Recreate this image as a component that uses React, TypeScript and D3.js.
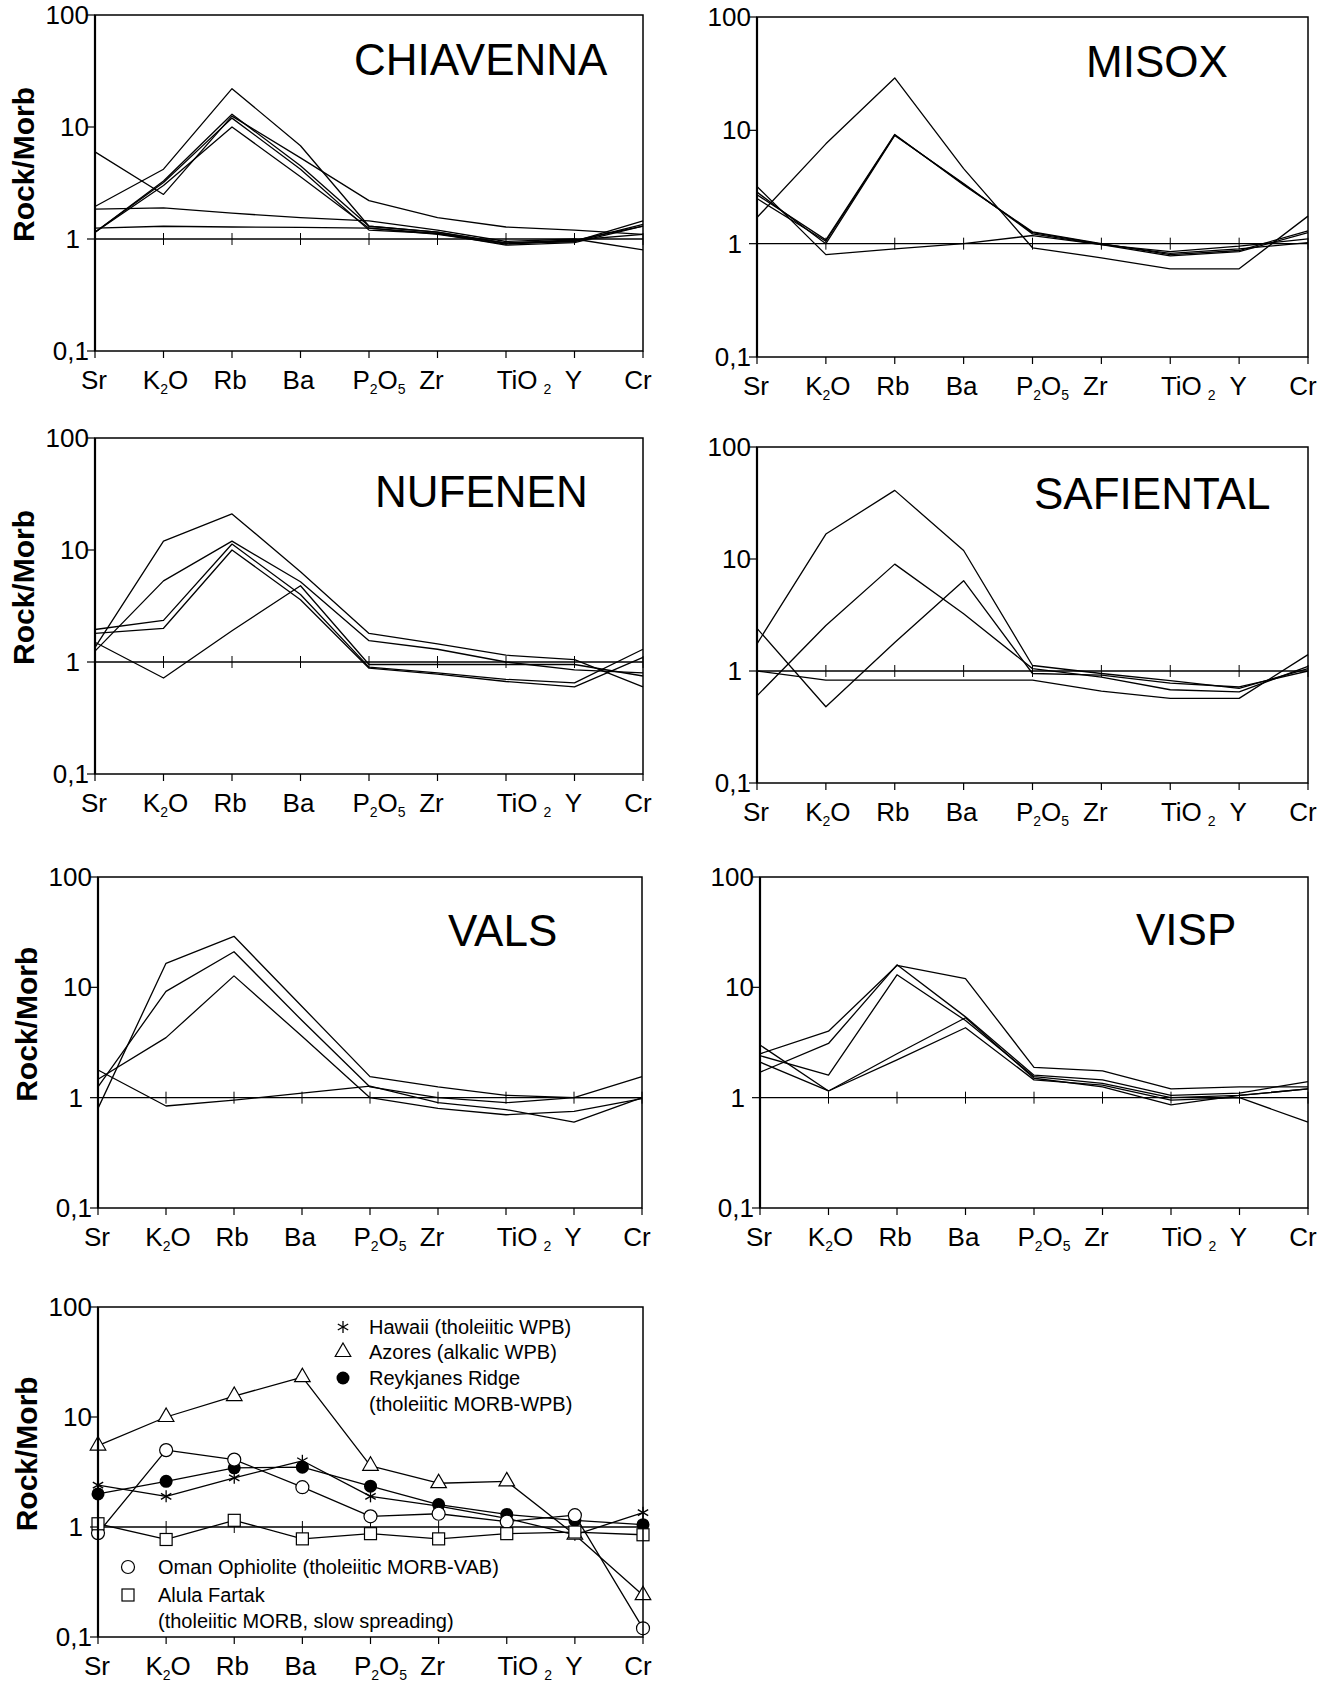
import React from "react";
import * as d3 from "d3";

// ---------- data ----------
const elements = ["Sr", "K2O", "Rb", "Ba", "P2O5", "Zr", "TiO2", "Y", "Cr"];
const yTickValues = [0.1, 1, 10, 100];
const yTickLabels = ["0,1", "1", "10", "100"];

const chiavenna = [
  [1.95, 4.2, 22, 6.8, 1.3, 1.15, 0.92, 0.95, 1.45],
  [6.0, 2.5, 12.5, 5.3, 2.2, 1.55, 1.28, 1.2, 1.1],
  [1.15, 3.3, 13, 4.5, 1.3, 1.15, 0.92, 0.95, 1.35],
  [1.15, 3.0, 10, 3.6, 1.25, 1.1, 0.9, 0.97, 1.3],
  [1.15, 3.2, 12, 4.2, 1.2, 1.12, 0.88, 0.93, 1.3],
  [1.85, 1.9, 1.7, 1.55, 1.45, 1.2, 0.95, 1.0, 0.8],
  [1.25, 1.3, 1.28, 1.27, 1.25, 1.12, 0.92, 0.98, 1.1],
];
const misox = [
  [1.7, 7.6, 29, 4.6, 0.92, 0.75, 0.6, 0.6, 1.75],
  [2.7, 1.08, 9.2, 3.3, 1.27, 1.0, 0.8, 0.87, 1.3],
  [2.85, 1.0, 9.0, 3.4, 1.22, 0.98, 0.78, 0.85, 1.25],
  [3.2, 0.8, 0.9, 1.0, 1.18, 0.98, 0.85, 0.95, 1.1],
  [2.5, 1.05, 9.1, 3.35, 1.25, 0.99, 0.82, 0.9, 1.02],
];
const nufenen = [
  [1.35, 12, 21, 6.4, 1.8, 1.45, 1.15, 1.05, 0.6],
  [1.25, 5.3, 12, 5.2, 1.55, 1.3, 1.0, 0.85, 0.8],
  [1.95, 2.35, 11.3, 4.0, 0.9, 0.8, 0.7, 0.65, 1.3],
  [1.8, 2.0, 10, 3.6, 0.88, 0.78, 0.67, 0.6, 1.1],
  [1.5, 0.72, 1.9, 4.8, 0.95, 0.95, 0.95, 0.95, 0.75],
];
const safiental = [
  [1.75, 16.7, 41, 11.9, 1.12, 0.95, 0.82, 0.7, 1.05],
  [0.6, 2.55, 9.0, 3.25, 1.05, 0.88, 0.68, 0.65, 1.1],
  [2.4, 0.48, 1.8, 6.4, 0.95, 0.92, 0.78, 0.72, 1.0],
  [1.0, 0.83, 0.83, 0.83, 0.83, 0.66, 0.57, 0.57, 1.4],
];
const vals = [
  [0.8, 16.5, 29, 6.7, 1.55, 1.25, 1.05, 1.0, 1.55],
  [1.25, 9.2, 21, 5.0, 1.25, 1.0, 0.9, 1.0, 1.0],
  [1.47, 3.5, 12.7, 3.6, 1.0, 0.8, 0.7, 0.75, 0.98],
  [1.78, 0.84, 0.95, 1.1, 1.27, 0.9, 0.78, 0.6, 1.0],
];
const visp = [
  [2.5, 4.0, 15.8, 12, 1.88, 1.75, 1.2, 1.25, 1.25],
  [1.7, 3.1, 16, 5.4, 1.6, 1.45, 1.05, 1.1, 1.4],
  [2.4, 1.6, 13, 5.0, 1.55, 1.35, 1.0, 1.05, 1.2],
  [3.0, 1.15, 2.5, 5.3, 1.5, 1.25, 0.86, 1.05, 1.2],
  [2.1, 1.15, 2.2, 4.3, 1.45, 1.3, 0.95, 1.0, 0.6],
];

const hawaii = [2.4, 1.9, 2.8, 4.0, 1.9, 1.55, 1.2, 0.85, 1.35];
const azores = [5.5, 10, 15.5, 23, 3.6, 2.5, 2.6, 0.85, 0.24];
const reykjanes = [2.0, 2.6, 3.45, 3.5, 2.35, 1.6, 1.3, 1.15, 1.05];
const oman = [0.88, 5.0, 4.1, 2.3, 1.25, 1.32, 1.12, 1.28, 0.12];
const alula = [1.07, 0.77, 1.15, 0.78, 0.87, 0.78, 0.87, 0.9, 0.85];

const referenceNames = [
  "Hawaii (tholeiitic WPB)",
  "Azores (alkalic WPB)",
  "Reykjanes Ridge",
  "Oman Ophiolite (tholeiitic MORB-VAB)",
  "Alula Fartak",
];

// ---------- layout ----------
const FONT = "'Liberation Sans', Arial, Helvetica, sans-serif";
const W = 1339;
const H = 1682;

type Marker = "asterisk" | "triangle" | "dot" | "circle" | "square";

type PanelCfg = {
  title?: string;
  series: number[][];
  markers?: Marker[];
  left: number;
  right: number;
  top: number;
  bottom: number;
  titleX?: number;
  titleY?: number;
  yLabel: boolean;
};

const panels: PanelCfg[] = [
  { title: "CHIAVENNA", series: chiavenna, left: 95, right: 643, top: 15, bottom: 351, titleX: 354, titleY: 75, yLabel: true },
  { title: "MISOX", series: misox, left: 757, right: 1308, top: 17, bottom: 357, titleX: 1086, titleY: 77, yLabel: false },
  { title: "NUFENEN", series: nufenen, left: 95, right: 643, top: 438, bottom: 774, titleX: 375, titleY: 507, yLabel: true },
  { title: "SAFIENTAL", series: safiental, left: 757, right: 1308, top: 447, bottom: 783, titleX: 1034, titleY: 509, yLabel: false },
  { title: "VALS", series: vals, left: 98, right: 642, top: 877, bottom: 1208, titleX: 448, titleY: 946, yLabel: true },
  { title: "VISP", series: visp, left: 760, right: 1308, top: 877, bottom: 1208, titleX: 1136, titleY: 945, yLabel: false },
  {
    series: [hawaii, azores, reykjanes, oman, alula],
    markers: ["asterisk", "triangle", "dot", "circle", "square"],
    left: 98, right: 643, top: 1307, bottom: 1637, yLabel: true,
  },
];

const labelNudge: Record<string, number> = {
  Sr: -1, K2O: 2, Rb: -2, Ba: -2, P2O5: 10, Zr: -6, TiO2: 18, Y: -1, Cr: -5,
};

function MarkerShape({ type, cx, cy }: { type: Marker; cx: number; cy: number }) {
  const sw = 1.2;
  if (type === "asterisk") {
    const r = 6;
    const angles = [90, 30, 150];
    return (
      <g stroke="#000" strokeWidth={1.3}>
        {angles.map((a) => {
          const rad = (a * Math.PI) / 180;
          const dx = r * Math.cos(rad);
          const dy = r * Math.sin(rad);
          return <line key={a} x1={cx - dx} y1={cy - dy} x2={cx + dx} y2={cy + dy} />;
        })}
      </g>
    );
  }
  if (type === "triangle") {
    const p = d3.symbol().type(d3.symbolTriangle).size(105)();
    return <path d={p || ""} transform={`translate(${cx},${cy})`} fill="#fff" stroke="#000" strokeWidth={sw} />;
  }
  if (type === "dot") return <circle cx={cx} cy={cy} r={6.5} fill="#000" />;
  if (type === "circle") return <circle cx={cx} cy={cy} r={6.5} fill="#fff" stroke="#000" strokeWidth={sw} />;
  return <rect x={cx - 6} y={cy - 6} width={12} height={12} fill="#fff" stroke="#000" strokeWidth={sw} />;
}

function ElementLabel({ name, x, y }: { name: string; x: number; y: number }) {
  const parts = name.match(/[A-Za-z]+|\d+/g) || [name];
  let shifted = false;
  return (
    <text x={x + (labelNudge[name] || 0)} y={y} textAnchor="middle" fontFamily={FONT} fontSize={26} fill="#000">
      {parts.map((p, i) => {
        const isNum = /^\d+$/.test(p);
        let dy = 0;
        if (isNum && !shifted) { dy = 5; shifted = true; }
        else if (!isNum && shifted) { dy = -5; shifted = false; }
        const dx = isNum && name === "TiO2" ? 6 : 0;
        return (
          <tspan key={i} dy={dy} dx={dx} fontSize={isNum ? 14 : 26}>{p}</tspan>
        );
      })}
    </text>
  );
}

function Panel({ cfg }: { cfg: PanelCfg }) {
  const x = d3.scalePoint<string>().domain(elements).range([cfg.left, cfg.right]);
  const y = d3.scaleLog().domain([0.1, 100]).range([cfg.bottom, cfg.top]);
  const line = d3
    .line<number>()
    .x((_, i) => x(elements[i]) as number)
    .y((d) => y(d));
  const y1 = y(1);
  const h = cfg.bottom - cfg.top;
  return (
    <g>
      {/* reference line at 1 with cross ticks */}
      <line x1={cfg.left} x2={cfg.right} y1={y1} y2={y1} stroke="#000" strokeWidth={1.3} />
      {elements.map((e) => (
        <line key={"c" + e} x1={x(e)} x2={x(e)} y1={y1 - 6} y2={y1 + 6} stroke="#000" strokeWidth={1} />
      ))}
      {/* data lines */}
      {cfg.series.map((s, i) => (
        <path key={i} d={line(s) || ""} fill="none" stroke="#000" strokeWidth={1.3} strokeLinejoin="round" />
      ))}
      {/* markers */}
      {cfg.markers &&
        cfg.series.map((s, i) =>
          s.map((v, j) => (
            <MarkerShape key={i + "-" + j} type={cfg.markers![i]} cx={x(elements[j]) as number} cy={y(v)} />
          ))
        )}
      {/* frame */}
      <rect x={cfg.left} y={cfg.top} width={cfg.right - cfg.left} height={h} fill="none" stroke="#000" strokeWidth={1.5} />
      <line x1={cfg.left} x2={cfg.left} y1={cfg.top} y2={cfg.bottom} stroke="#000" strokeWidth={2.2} />
      {/* x ticks and labels */}
      {elements.map((e) => (
        <g key={"x" + e}>
          <line x1={x(e)} x2={x(e)} y1={cfg.bottom} y2={cfg.bottom + 7} stroke="#000" strokeWidth={1.2} />
          <ElementLabel name={e} x={x(e) as number} y={cfg.bottom + 38} />
        </g>
      ))}
      {/* y ticks and labels */}
      {yTickValues.map((v, i) => (
        <g key={"y" + v}>
          <line x1={cfg.left - 8} x2={cfg.left} y1={y(v)} y2={y(v)} stroke="#000" strokeWidth={1.2} />
          <text
            x={cfg.left - (yTickLabels[i] === "1" ? 15 : 6)}
            y={y(v) + 9}
            textAnchor="end"
            fontFamily={FONT}
            fontSize={26}
            fill="#000"
          >
            {yTickLabels[i]}
          </text>
        </g>
      ))}
      {cfg.yLabel && (
        <text
          transform={`translate(${cfg.left - 61},${cfg.top + h * 0.445}) rotate(-90)`}
          textAnchor="middle"
          fontFamily={FONT}
          fontWeight="bold"
          fontSize={30}
          fill="#000"
        >
          Rock/Morb
        </text>
      )}
      {cfg.title && (
        <text x={cfg.titleX} y={cfg.titleY} fontFamily={FONT} fontSize={44} fill="#000">
          {cfg.title}
        </text>
      )}
    </g>
  );
}

function Legend() {
  const fs = 20;
  const items: { m: Marker; mx: number; my: number; lines: string[] }[] = [
    { m: "asterisk", mx: 343, my: 1327, lines: [referenceNames[0]] },
    { m: "triangle", mx: 343, my: 1352, lines: [referenceNames[1]] },
    { m: "dot", mx: 343, my: 1378, lines: [referenceNames[2], "(tholeiitic MORB-WPB)"] },
    { m: "circle", mx: 128, my: 1567, lines: [referenceNames[3]] },
    { m: "square", mx: 128, my: 1595, lines: [referenceNames[4], "(tholeiitic MORB, slow spreading)"] },
  ];
  return (
    <g>
      {items.map((it, i) => (
        <g key={i}>
          <MarkerShape type={it.m} cx={it.mx} cy={it.my} />
          {it.lines.map((t, k) => (
            <text
              key={k}
              x={it.mx + (it.mx > 200 ? 26 : 30)}
              y={it.my + 7 + k * 26}
              fontFamily={FONT}
              fontSize={fs}
              fill="#000"
            >
              {t}
            </text>
          ))}
        </g>
      ))}
    </g>
  );
}

export default function App() {
  return (
    <svg
      width={W}
      height={H}
      viewBox={`0 0 ${W} ${H}`}
      style={{ position: "absolute", left: 0, top: 0, background: "#fff" }}
    >
      <rect x={0} y={0} width={W} height={H} fill="#fff" />
      {panels.map((p, i) => (
        <Panel key={i} cfg={p} />
      ))}
      <Legend />
    </svg>
  );
}
